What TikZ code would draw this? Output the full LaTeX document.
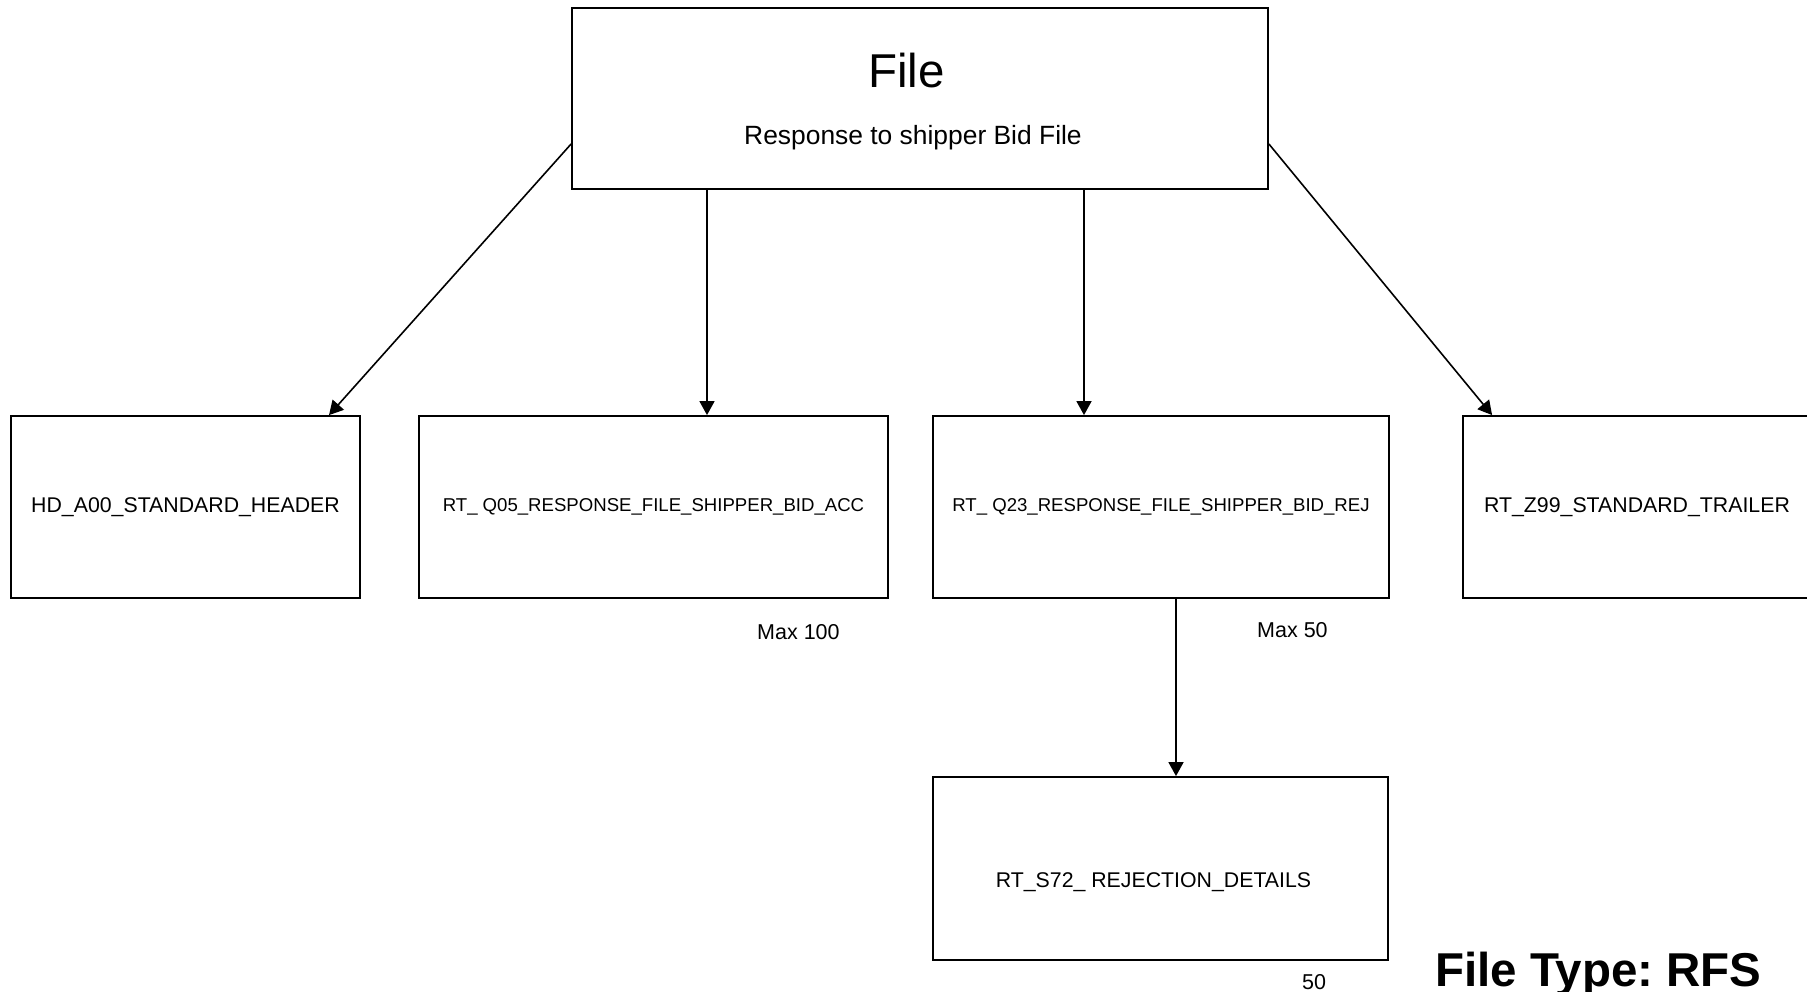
\documentclass[tikz,border=0pt]{standalone}
\usepackage{fontspec}
\setmainfont{Liberation Sans}
\usepackage{tikz}
\usetikzlibrary{arrows.meta,positioning}
\frenchspacing

\begin{document}
\begin{tikzpicture}[
    x=1pt, y=-1pt,
    record/.style={rectangle, draw=black, line width=1.8pt, inner sep=0pt, minimum height=182pt, font=\fontsize{21.3}{24}\selectfont},
    smallrec/.style={record, font=\fontsize{18.6}{22}\selectfont},
    note/.style={anchor=base west, inner sep=0pt, font=\fontsize{21.5}{24}\selectfont},
    arrow/.style={-{Triangle[length=14pt,width=15pt]}, line width=1.6pt, draw=black}
]
\useasboundingbox (0,0) rectangle (1807,992);

% File level
\node [rectangle, draw=black, line width=1.8pt, inner sep=0pt, minimum width=696pt, minimum height=181pt] (filebox) at (920,98.5) {};
\node [anchor=base west, inner sep=0pt, font=\fontsize{47.5}{50}\selectfont] (filetitle) at (868,88) {File};
\node [anchor=base west, inner sep=0pt, font=\fontsize{26.4}{30}\selectfont] (filesub) at (744,145) {Response to shipper Bid File};

% Record level
\node [record, minimum width=349pt] (hdr) at (185.5,507) {HD\_A00\_STANDARD\_HEADER};
\node [smallrec, minimum width=469pt] (acc) at (653.5,507) {RT\_ Q05\_RESPONSE\_FILE\_SHIPPER\_BID\_ACC};
\node [smallrec, minimum width=456pt] (rej) at (1161,507) {RT\_ Q23\_RESPONSE\_FILE\_SHIPPER\_BID\_REJ};
\node [record, minimum width=348pt] (trl) at (1637,507) {RT\_Z99\_STANDARD\_TRAILER};

% Detail level
\node [record, minimum width=455pt, minimum height=183pt,
       label={[name=dettxt, xshift=-7pt, yshift=-14pt, font=\fontsize{21.3}{24}\selectfont]center:RT\_S72\_ REJECTION\_DETAILS}] (det) at (1160.5,868.5) {};

% Arrows
\draw [arrow] ([yshift=-45.5pt]filebox.west) -- ([xshift=143.5pt]hdr.north);
\draw [arrow] ([xshift=-213pt]filebox.south) -- ([xshift=53.5pt]acc.north);
\draw [arrow] ([xshift=164pt]filebox.south) -- ([xshift=-77pt]rej.north);
\draw [arrow] ([yshift=-45.5pt]filebox.east) -- ([xshift=30pt]trl.north west);
\draw [arrow] ([xshift=15pt]rej.south) -- ([xshift=15.5pt]det.north);

% Occurrence notes
\node [note] (maxacc) at (757,639) {Max 100};
\node [note] (maxrej) at (1257,637) {Max 50};
\node [note] (maxdet) at (1302,989) {50};

% File type
\node [anchor=base west, inner sep=0pt, font=\bfseries\fontsize{47.5}{52}\selectfont] (ftype) at (1435,986) {File Type: RFS};

\end{tikzpicture}
\end{document}
